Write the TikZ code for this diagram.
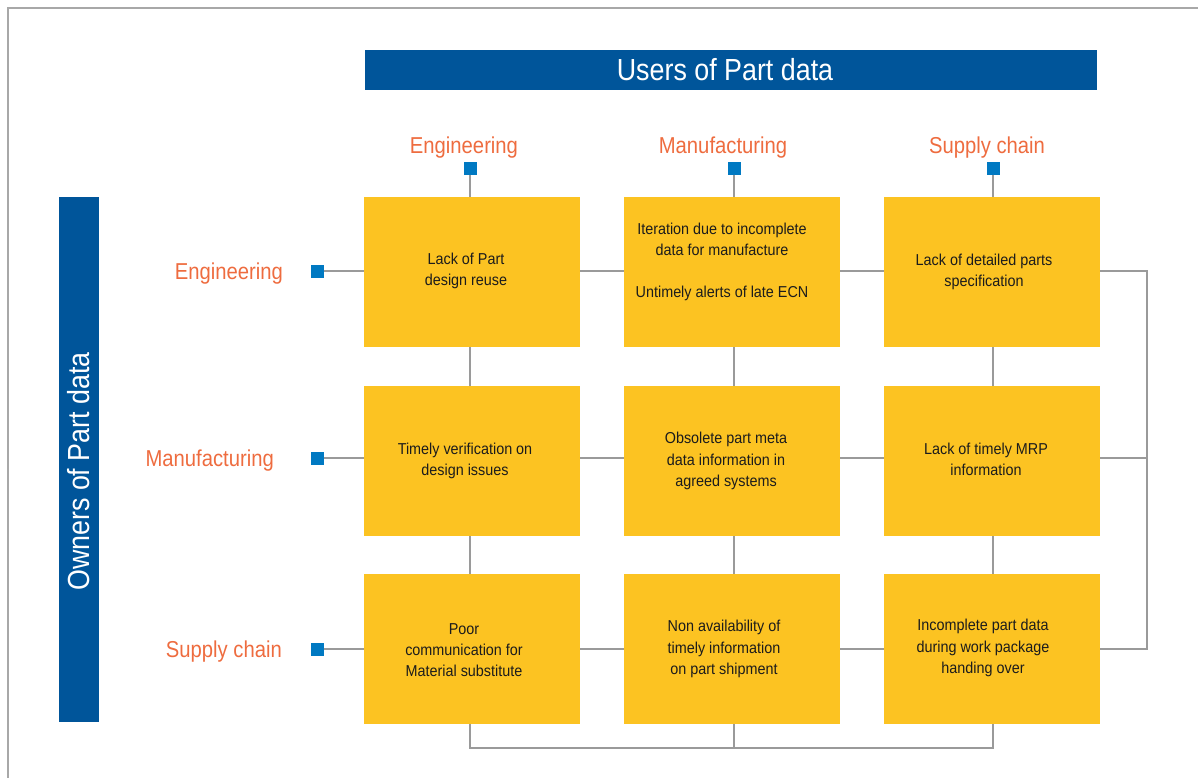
\documentclass[tikz,border=0pt]{standalone}
\usepackage{fontspec}
\setmainfont{Liberation Sans}[FakeStretch=0.88]
\newfontfamily\cellfont{Liberation Sans}[FakeStretch=0.91]
\definecolor{boxyellow}{HTML}{FCC322}
\definecolor{barblue}{HTML}{00559A}
\definecolor{markblue}{HTML}{0079C2}
\definecolor{headorange}{HTML}{EE6C3F}
\definecolor{linegray}{HTML}{9A9A9A}
\definecolor{framegray}{HTML}{A8A8A8}
\definecolor{boxtext}{HTML}{1C1C1C}
\begin{document}
\begin{tikzpicture}[x=1pt,y=-1pt,
  cell/.style={fill=boxyellow, minimum width=216pt, minimum height=150pt, inner sep=0pt},
  celltext/.style={align=center, inner sep=0pt, text=boxtext, font=\cellfont\fontsize{15.8}{21.2}\selectfont},
  marker/.style={fill=markblue, minimum size=13pt, inner sep=0pt},
  head/.style={text=headorange, font=\fontsize{23}{26}\selectfont, inner sep=0pt},
  bar/.style={fill=barblue, inner sep=0pt},
  bartext/.style={text=white, inner sep=0pt, font=\fontsize{30.5}{34}\selectfont},
  conn/.style={draw=linegray, line width=1.5pt}]
\useasboundingbox (0,0) rectangle (1198,777);
\draw[draw=framegray, line width=1.5pt] (8,8) rectangle (1215,795);

% bars
\node[bar, minimum width=732pt, minimum height=40pt] (title) at (731,70) {};
\node[bartext] (titletext) at ([xshift=-6pt]title.center) {Users of Part data};
\node[bar, minimum width=40pt, minimum height=525pt] (owners) at (79,459.5) {};
\node[bartext, rotate=90] (ownerstext) at ([yshift=-12pt]owners.center) {Owners of Part data};

% column headers
\node[head, anchor=base] (ch1) at (464,153) {Engineering};
\node[head, anchor=base] (ch2) at (723,153) {Manufacturing};
\node[head, anchor=base] (ch3) at (987,153) {Supply chain};
\node[marker] (cs1) at (470,168) {};
\node[marker] (cs2) at (734,168) {};
\node[marker] (cs3) at (993,168) {};

% row headers
\node[head, anchor=base east] (rh1) at (283,279.5) {Engineering};
\node[head, anchor=base east] (rh2) at (274,466.5) {Manufacturing};
\node[head, anchor=base east] (rh3) at (282,657.5) {Supply chain};
\node[marker] (rs1) at (317,271) {};
\node[marker] (rs2) at (317,458) {};
\node[marker] (rs3) at (317,649) {};

% cells
\node[cell] (b11) at (472,272) {};
\node[cell] (b12) at (732,272) {};
\node[cell] (b13) at (992,272) {};
\node[cell] (b21) at (472,461) {};
\node[cell] (b22) at (732,461) {};
\node[cell] (b23) at (992,461) {};
\node[cell] (b31) at (472,649) {};
\node[cell] (b32) at (732,649) {};
\node[cell] (b33) at (992,649) {};

\node[celltext] (t11) at ([xshift=-6pt,yshift=1pt]b11.center) {Lack of Part\\design reuse};
\node[celltext] (t12) at ([xshift=-10pt,yshift=10pt]b12.center) {Iteration due to incomplete\\data for manufacture\\~\\Untimely alerts of late ECN};
\node[celltext] (t13) at ([xshift=-8pt]b13.center) {Lack of detailed parts\\specification};
\node[celltext] (t21) at ([xshift=-7pt]b21.center) {Timely verification on\\design issues};
\node[celltext] (t22) at ([xshift=-6pt]b22.center) {Obsolete part meta\\data information in\\agreed systems};
\node[celltext] (t23) at ([xshift=-6pt,yshift=2pt]b23.center) {Lack of timely MRP\\information};
\node[celltext] (t31) at ([xshift=-8pt,yshift=-1pt]b31.center) {Poor\\communication for\\Material substitute};
\node[celltext] (t32) at ([xshift=-8pt]b32.center) {Non availability of\\timely information\\on part shipment};
\node[celltext] (t33) at ([xshift=-9pt,yshift=1pt]b33.center) {Incomplete part data\\during work package\\handing over};

\coordinate (rtop) at (1147,271);
\coordinate (rbot) at (1147,649);
\coordinate (bl) at (470,748);
\coordinate (br) at (993,748);

% row connectors
\draw[conn] (rs1.east) -- (rs1 -| b11.west);
\draw[conn] (b11.east |- rs1) -- (b12.west |- rs1);
\draw[conn] (b12.east |- rs1) -- (b13.west |- rs1);
\draw[conn] (rs2.east) -- (rs2 -| b21.west);
\draw[conn] (b21.east |- rs2) -- (b22.west |- rs2);
\draw[conn] (b22.east |- rs2) -- (b23.west |- rs2);
\draw[conn] (rs3.east) -- (rs3 -| b31.west);
\draw[conn] (b31.east |- rs3) -- (b32.west |- rs3);
\draw[conn] (b32.east |- rs3) -- (b33.west |- rs3);
\draw[conn] (b13.east |- rs1) -- (rtop) -- (rbot) -- (b33.east |- rs3);
\draw[conn] (b23.east |- rs2) -- (rtop |- rs2);

% column connectors
\draw[conn] (cs1.south) -- (cs1 |- b11.north);
\draw[conn] (cs1 |- b11.south) -- (cs1 |- b21.north);
\draw[conn] (cs1 |- b21.south) -- (cs1 |- b31.north);
\draw[conn] (cs2.south) -- (cs2 |- b12.north);
\draw[conn] (cs2 |- b12.south) -- (cs2 |- b22.north);
\draw[conn] (cs2 |- b22.south) -- (cs2 |- b32.north);
\draw[conn] (cs3.south) -- (cs3 |- b13.north);
\draw[conn] (cs3 |- b13.south) -- (cs3 |- b23.north);
\draw[conn] (cs3 |- b23.south) -- (cs3 |- b33.north);
\draw[conn] (cs1 |- b31.south) -- (bl) -- (br) -- (cs3 |- b33.south);
\draw[conn] (cs2 |- b32.south) -- (cs2 |- bl);
\end{tikzpicture}
\end{document}
